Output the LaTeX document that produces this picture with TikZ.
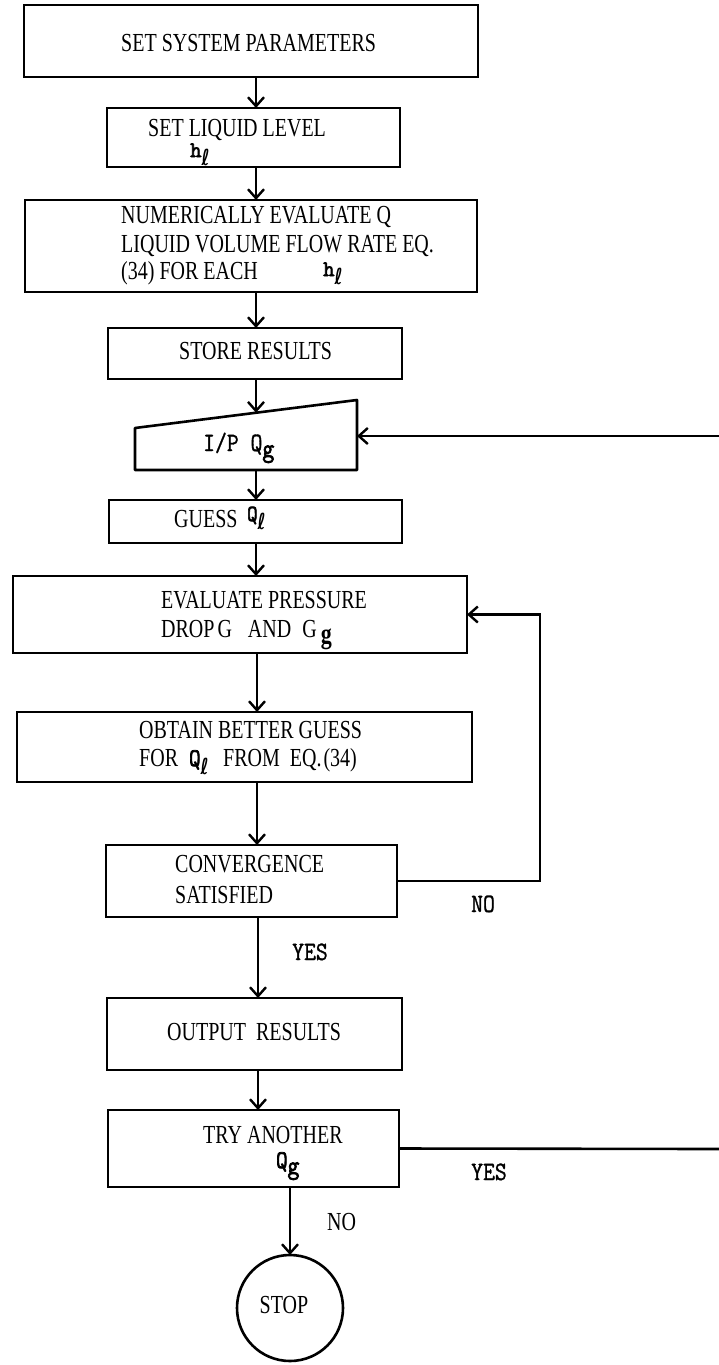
\documentclass[tikz,border=0pt]{standalone}
\usepackage{graphicx}
\usepackage{fontspec}
\setmainfont{Liberation Serif}
\newfontfamily\cour{Latin Modern Mono}[FakeBold=1.2]
\newfontfamily\courb{Latin Modern Mono}[FakeBold=3]
\newfontfamily\dvs{DejaVu Sans}
\usetikzlibrary{arrows.meta}
\newcommand\vs[1]{\scalebox{1}[1.3]{#1}}
\newcommand\vm[1]{\scalebox{1}[1.15]{#1}}
\newcommand\subl{\raisebox{-8pt}{\vs{\dvs\bfseries\fontsize{17}{17}\selectfont ℓ}}}
\newcommand\subgm{\raisebox{-6pt}{\vm{\courb\fontsize{23}{23}\selectfont g}}}
\newcommand\subgs{\raisebox{-6pt}{\vs{\bfseries\fontsize{22}{22}\selectfont g}}}
\newcommand\hb{{\courb\fontsize{22}{22}\selectfont h}}
\newcommand\bx[5]{\node[box,minimum width={#4pt-#2pt},minimum height={#5pt-#3pt}] (#1) at ({(#2+#4)/2},{(#3+#5)/2}) {};}
\begin{document}
\begin{tikzpicture}[x=1pt,y=-1pt,
  box/.style={draw, line width=2.6pt, inner sep=0pt, outer sep=0pt},
  txt/.style={inner sep=0pt, anchor=base west, font=\fontsize{20}{24}\selectfont},
  mtxt/.style={inner sep=0pt, anchor=base west, font=\cour\fontsize{23}{26}\selectfont},
  arr/.style={-{Straight Barb[length=9pt,width=16pt,line width=2.4pt]}, line width=2.6pt},
  ln/.style={line width=2.6pt}]
\useasboundingbox (0,0) rectangle (719,1365);
% boxes
\bx{b1}{24}{5}{478}{77}
\bx{b2}{107}{108}{400}{167}
\bx{b3}{25}{200}{477}{292}
\bx{b4}{108}{328}{402}{379}
\bx{b5}{109}{500}{402}{543}
\bx{b6}{13}{576}{467}{653}
\bx{b7}{17}{712}{472}{782}
\bx{b8}{106}{845}{397}{917}
\bx{b9}{107}{998}{402}{1070}
\bx{b10}{108}{1110}{399}{1187}
\node[circle, draw, minimum size=106pt, inner sep=0pt, outer sep=0pt, line width=2.6pt] (stop) at (290,1308) {};
% manual input shape
\coordinate (ipTL) at (135,428);
\coordinate (ipTR) at (357,400);
\coordinate (ipBR) at (357,470);
\coordinate (ipBL) at (135,470);
\coordinate (ipN) at (256,412.7);
\coordinate (ipS) at (256,470);
\coordinate (ipE) at (357,436);
\draw[ln, line join=round] (ipTL) -- (ipTR) -- (ipBR) -- (ipBL) -- cycle;
% texts
\node[txt] (t1) at (121,51) {\vs{SET SYSTEM PARAMETERS}};
\node[txt] (t2) at (148,136) {\vs{SET LIQUID LEVEL}};
\node[txt] (t2h) at (190,157) {\hb\subl};
\node[txt] (t3a) at (121,223) {\vs{NUMERICALLY EVALUATE Q}};
\node[txt] (t3b) at (121,252) {\vs{LIQUID VOLUME FLOW RATE EQ.}};
\node[txt] (t3c) at (121,279) {\vs{(34) FOR EACH}};
\node[txt] (t3h) at (323,276) {\hb\subl};
\node[txt] (t4) at (179,359) {\vs{STORE RESULTS}};
\node[mtxt] (t5) at (203,451) {\vm{I/P Q}\subgm};
\node[txt] (t6) at (174,527) {\vs{GUESS}};
\node[mtxt, font=\courb\fontsize{20}{22}\selectfont] (t6q) at (247,521) {\vm{Q}\subl};
\node[txt] (t7a) at (161,608) {\vs{EVALUATE PRESSURE}};
\node[txt] (t7b) at (161,637) {\vs{DROP\hspace{3pt}G\hspace{16pt}AND\hspace{11pt}G}\hspace{4pt}\subgs};
\node[txt] (t8a) at (139,738) {\vs{OBTAIN BETTER GUESS}};
\node[txt] (t8b) at (139,766) {\vs{FOR}};
\node[mtxt, font=\courb\fontsize{22}{24}\selectfont] (t8q) at (189,766) {\vm{Q}\subl};
\node[txt] (t8c) at (223,766) {\vs{FROM\hspace{10pt}EQ.\hspace{2pt}(34)}};
\node[txt] (t9a) at (175,872) {\vs{CONVERGENCE}};
\node[txt] (t9b) at (175,903) {\vs{SATISFIED}};
\node[mtxt] (no1) at (471,912) {\vm{NO}};
\node[mtxt] (yes1) at (292,960) {\vm{YES}};
\node[txt] (t10) at (167,1040) {\vs{OUTPUT\hspace{10pt}RESULTS}};
\node[txt] (t11) at (203,1143) {\vs{TRY ANOTHER}};
\node[mtxt, font=\courb\fontsize{22}{24}\selectfont] (t11q) at (276,1168) {\vm{Q}\subgm};
\node[mtxt] (yes2) at (471,1180) {\vm{YES}};
\node[txt] (no2) at (327,1230) {\vs{NO}};
\node[txt, anchor=base] (t12) at (284,1313) {\vs{STOP}};
% connectors
\coordinate (ax) at (256,0);
\draw[arr] (b1.south -| ax) -- (b2.north -| ax);
\draw[arr] (b2.south -| ax) -- (b3.north -| ax);
\draw[arr] (b3.south -| ax) -- (b4.north -| ax);
\draw[arr] (b4.south -| ax) -- (ipN);
\draw[arr] (ipS) -- (b5.north -| ax);
\draw[arr] (b5.south -| ax) -- (b6.north -| ax);
\coordinate (ax2) at (257,0);
\draw[arr] (b6.south -| ax2) -- (b7.north -| ax2);
\draw[arr] (b7.south -| ax2) -- (b8.north -| ax2);
\coordinate (ax3) at (258,0);
\draw[arr] (b8.south -| ax3) -- (b9.north -| ax3);
\draw[arr] (b9.south -| ax3) -- (b10.north -| ax3);
\draw[arr] (b10.south -| stop) -- (stop.north);
\coordinate (lpx) at (540,750);
\draw[arr] (b8.east) -| (lpx) |- (b6.east);
\coordinate (rin) at (719,436);
\draw[arr] (rin) -- (ipE);
\coordinate (rout) at (719,1149);
\draw[ln] (b10.east) -- (rout);
\end{tikzpicture}
\end{document}
